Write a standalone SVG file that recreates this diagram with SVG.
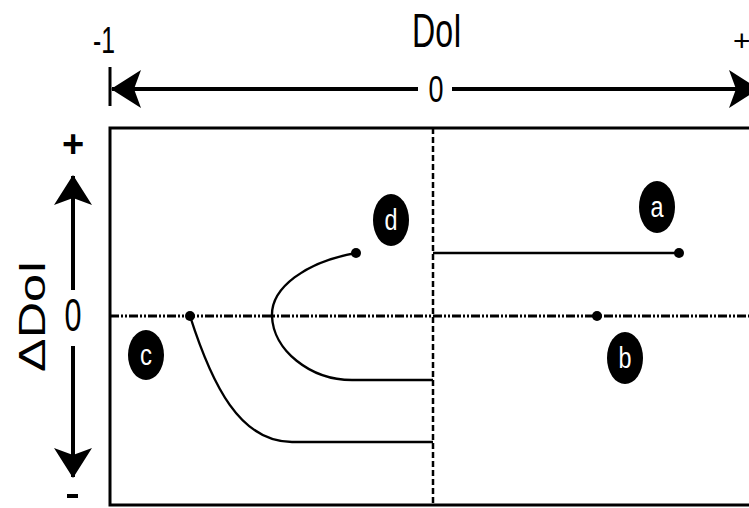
<svg xmlns="http://www.w3.org/2000/svg" width="749" height="508" viewBox="0 0 749 508">
<style>
  .lbl { font-family: "Liberation Sans", Arial, sans-serif; fill: #000; }
  .axis { stroke: #000; stroke-width: 4; fill: none; }
  .curve { stroke: #000; stroke-width: 2.4; fill: none; }
  .badge ellipse { fill: #000; }
  .badge text { font-family: "Liberation Sans", Arial, sans-serif; fill: #fff; font-size: 30px; text-anchor: middle; }
</style>
<defs>
  <marker id="ah" viewBox="0 0 30 38" refX="29" refY="19" markerWidth="30" markerHeight="38" markerUnits="userSpaceOnUse" orient="auto">
    <path d="M0,0 L30,19 L0,38 L7,19 Z" fill="#000"/>
  </marker>
</defs>
<rect width="749" height="508" fill="#fff"/>

<!-- top axis -->
<g id="top-axis">
  <line x1="110" y1="67" x2="110" y2="106" stroke="#000" stroke-width="3"/>
  <line class="axis" x1="418" y1="89" x2="112" y2="89" marker-end="url(#ah)"/>
  <line class="axis" x1="452" y1="89" x2="758" y2="89" marker-end="url(#ah)"/>
  <text class="lbl" x="437" y="47" font-size="48" text-anchor="middle" textLength="50" lengthAdjust="spacingAndGlyphs">DoI</text>
  <text class="lbl" x="104" y="53" font-size="36" text-anchor="middle" textLength="22" lengthAdjust="spacingAndGlyphs">-1</text>
  <text class="lbl" x="436" y="102" font-size="36" text-anchor="middle" textLength="15" lengthAdjust="spacingAndGlyphs">0</text>
  <text class="lbl" x="733" y="51" font-size="30">+</text>
</g>

<!-- left axis -->
<g id="left-axis">
  <line class="axis" x1="73" y1="290" x2="73" y2="176" marker-end="url(#ah)"/>
  <line class="axis" x1="73" y1="346" x2="73" y2="477" marker-end="url(#ah)"/>
  <text class="lbl" x="73" y="157" font-size="38" font-weight="bold" text-anchor="middle">+</text>
  <text class="lbl" x="73" y="331" font-size="46" text-anchor="middle" textLength="17" lengthAdjust="spacingAndGlyphs">0</text>
  <rect x="67" y="494" width="11" height="4" fill="#000"/>
  <text class="lbl" transform="translate(45,316) rotate(-90)" font-size="36" text-anchor="middle" textLength="112" lengthAdjust="spacingAndGlyphs">ΔDoI</text>
</g>

<!-- frame and zero lines -->
<g id="frame">
  <path d="M760,128 L110,128 L110,505 L760,505" fill="none" stroke="#000" stroke-width="3"/>
  <line x1="433" y1="128" x2="433" y2="505" stroke="#000" stroke-width="2.5" stroke-dasharray="6 3"/>
  <line x1="110" y1="316" x2="760" y2="316" stroke="#000" stroke-width="3" stroke-dasharray="9 2 2 2 2 2"/>
</g>

<!-- connectors / trajectories -->
<g id="connectors">
  <path class="curve" d="M433,253 L679,253"/>
  <path class="curve" d="M190,316 C212,385 240,442 292,442 L433,442"/>
  <path class="curve" d="M356,253 C305,262 271,288 272,316 C273,350 310,380 352,380 L433,380"/>
  <circle cx="679" cy="253" r="5"/>
  <circle cx="597" cy="316" r="5"/>
  <circle cx="190" cy="316" r="5"/>
  <circle cx="356" cy="253" r="5"/>
</g>

<g id="node-a" class="badge"><ellipse cx="657" cy="207" rx="18" ry="26"/><text x="657" y="217" textLength="13" lengthAdjust="spacingAndGlyphs">a</text></g>
<g id="node-b" class="badge"><ellipse cx="625" cy="358" rx="18" ry="26"/><text x="625" y="368" textLength="13" lengthAdjust="spacingAndGlyphs">b</text></g>
<g id="node-c" class="badge"><ellipse cx="146" cy="355" rx="18" ry="25"/><text x="146" y="365" textLength="12" lengthAdjust="spacingAndGlyphs">c</text></g>
<g id="node-d" class="badge"><ellipse cx="391" cy="220" rx="18" ry="26"/><text x="391" y="230" textLength="13" lengthAdjust="spacingAndGlyphs">d</text></g>
</svg>
